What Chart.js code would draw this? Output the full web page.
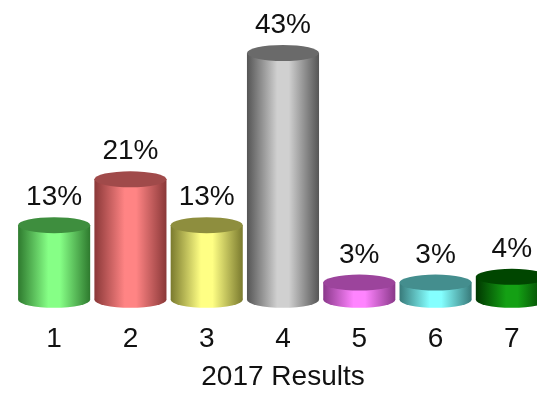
<!DOCTYPE html>
<html>
<head>
<meta charset="utf-8">
<script src="https://cdn.jsdelivr.net/npm/chart.js@4"></script>
<style>
  html, body { margin: 0; padding: 0; background: #fff; overflow: hidden; }
</style>
</head>
<body>
<canvas id="resultsChart" width="560" height="394"></canvas>
<script>
// ---- data ----
var categories = ['1', '2', '3', '4', '5', '6', '7'];
var percentValues = [13, 21, 13, 43, 3, 3, 4];
var axisTitle = '2017 Results';

// ---- colours (light middle, dark edge, top cap) ----
var lightColors = ['#86ff86', '#ff8484', '#ffff84', '#d0d0d0', '#ff84ff', '#84ffff', '#14a014'];
var darkColors  = ['#2e7a2e', '#8a3838', '#7a7a2e', '#555555', '#8a388a', '#387a7a', '#003600'];
var capColors   = ['#3e8e3e', '#a04a4a', '#8e8e3e', '#6a6a6a', '#9c449c', '#448e8e', '#004600'];

var ELLIPSE_RY = 8;

function cylinderFill(ctx, i, cx, w) {
    var g = ctx.createLinearGradient(cx - w / 2, 0, cx + w / 2, 0);
    g.addColorStop(0, darkColors[i]);
    g.addColorStop(0.42, lightColors[i]);
    g.addColorStop(0.58, lightColors[i]);
    g.addColorStop(1, darkColors[i]);
    return g;
}

//=============================== cylinder ends + value labels ===============
var cylinderPlugin = {
    id: 'cylinders',
    beforeDatasetsDraw: function(chart) {
        var ctx = chart.ctx;
        var meta = chart.getDatasetMeta(0);
        meta.data.forEach(function(el, i) {
            ctx.save();
            ctx.beginPath();
            ctx.ellipse(el.x, el.base, el.width / 2, ELLIPSE_RY, 0, 0, Math.PI * 2);
            ctx.fillStyle = cylinderFill(ctx, i, el.x, el.width);
            ctx.fill();
            ctx.restore();
        });
    },
    afterDatasetsDraw: function(chart) {
        var ctx = chart.ctx;
        var meta = chart.getDatasetMeta(0);
        meta.data.forEach(function(el, i) {
            ctx.save();
            ctx.beginPath();
            ctx.ellipse(el.x, el.y, el.width / 2, ELLIPSE_RY, 0, 0, Math.PI * 2);
            ctx.fillStyle = capColors[i];
            ctx.fill();

            ctx.fillStyle = '#111';
            ctx.font = '28px "Liberation Sans", Arial, sans-serif';
            ctx.textAlign = 'center';
            ctx.textBaseline = 'alphabetic';
            ctx.fillText(percentValues[i] + '%', el.x, el.y - ELLIPSE_RY - 12);
            ctx.restore();
        });
    }
};

Chart.defaults.font.family = '"Liberation Sans", Arial, sans-serif';
Chart.defaults.color = '#111';

var ctx = document.getElementById('resultsChart').getContext('2d');
var resultsChart = new Chart(ctx, {
    type: 'bar',
    data: {
        labels: categories,
        datasets: [{
            data: percentValues,
            backgroundColor: function(c) {
                var chart = c.chart;
                var xs = chart.scales.x;
                if (!xs || !chart.chartArea) return lightColors[c.dataIndex];
                var w = (xs.width / categories.length) * 0.945;
                var cx = xs.getPixelForValue(c.dataIndex);
                return cylinderFill(chart.ctx, c.dataIndex, cx, w);
            },
            borderWidth: 0,
            barPercentage: 0.945,
            categoryPercentage: 1.0
        }]
    },
    options: {
        responsive: false,
        animation: false,
        layout: { padding: { left: 16, right: 10, top: 53, bottom: 0 } },
        plugins: {
            legend: { display: false },
            tooltip: { enabled: false }
        },
        scales: {
            y: { display: false, min: 0, max: 43 },
            x: {
                grid: { display: false, drawTicks: false },
                border: { display: false },
                ticks: { font: { size: 28 }, padding: 23 },
                title: {
                    display: true,
                    text: axisTitle,
                    font: { size: 28 },
                    padding: { top: -19, bottom: 0 }
                }
            }
        }
    },
    plugins: [cylinderPlugin]
});
</script>
</body>
</html>
